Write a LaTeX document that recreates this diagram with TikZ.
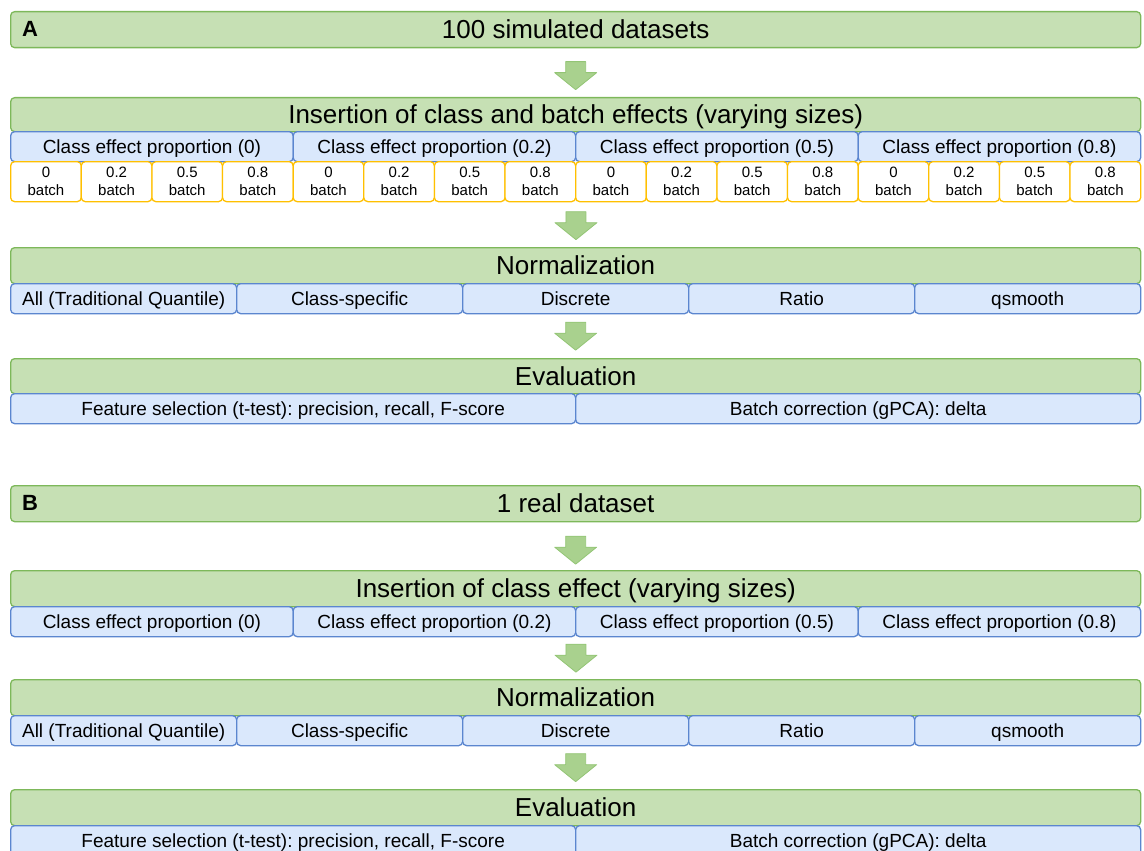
\documentclass[tikz,border=0pt]{standalone}
\usepackage{fontspec}
\setmainfont{Liberation Sans}
\frenchspacing
\usetikzlibrary{calc}
\definecolor{gfill}{HTML}{C6E0B4}
\definecolor{gline}{HTML}{7DB85A}
\definecolor{bfill}{HTML}{DAE8FC}
\definecolor{bline}{HTML}{5B86CF}
\definecolor{oline}{HTML}{FFC000}
\definecolor{afill}{HTML}{A9D18E}
\definecolor{aline}{HTML}{93C575}
\tikzset{
  base/.style={anchor=north west, rounded corners=4pt, line width=1.3pt, inner sep=0pt, text=black},
  gbox/.style={base, draw=gline, fill=gfill, minimum width=1130pt, font=\frenchspacing\fontsize{26}{28}\selectfont,
    text height=18.6pt, text depth=0pt},
  bbox/.style={base, draw=bline, fill=bfill, minimum height=30pt, font=\frenchspacing\fontsize{19}{21}\selectfont,
    text height=13.6pt, text depth=0pt},
  obox/.style={anchor=north west, rounded corners=4pt, line width=1.3pt, inner sep=0pt,
    draw=oline, fill=white, minimum width=70.625pt, minimum height=40pt, align=center,
    font=\fontsize{15}{18}\selectfont},
  panel/.style={anchor=west, font=\bfseries\fontsize{22}{22}\selectfont, inner sep=0pt},
  flow/.style={draw=aline, fill=afill, line width=0.8pt, line join=round},
  flowarrow/.pic={\draw[flow] (-10,-14) -- (10,-14) -- (10,-3) -- (21,-3) -- (0,14) -- (-21,-3) -- (-10,-3) -- cycle;}
}
\begin{document}
\begin{tikzpicture}[x=1pt,y=-1pt]
\useasboundingbox (0,0) rectangle (1144,851);

% ---------------- Panel A ----------------
\node[gbox, minimum height=36pt] (a1) at (10,11) {100 simulated datasets};
\node[panel] (la) at (22,29) {A};

\node[gbox, minimum height=34pt] (a2) at (10,97) {Insertion of class and batch effects (varying sizes)};
\foreach \p [count=\i from 0] in {0,0.2,0.5,0.8} {
  \node[bbox, minimum width=282.5pt] (ac\i) at ({10+\i*282.5},131) {Class effect proportion (\p)};
}
\foreach \k in {0,...,3} {
  \foreach \q [count=\j from 0] in {0,0.2,0.5,0.8} {
    \pgfmathtruncatemacro{\n}{\k*4+\j}
    \node[obox] (ao\n) at ({10+\n*70.625},161) {\q\\batch};
  }
}

\node[gbox, minimum height=36pt] (a3) at (10,247) {Normalization};
\foreach \t [count=\i from 0] in {All (Traditional Quantile),Class-specific,Discrete,Ratio,qsmooth} {
  \node[bbox, minimum width=226pt] (an\i) at ({10+\i*226},283) {\t};
}

\node[gbox, minimum height=35pt] (a4) at (10,358) {Evaluation};
\node[bbox, minimum width=565pt] (ae0) at (10,393) {Feature selection (t-test): precision, recall, F-score};
\node[bbox, minimum width=565pt] (ae1) at (575,393) {Batch correction (gPCA): delta};

\path ($(a1.south)!0.5!(a2.north)+(0,3)$) pic {flowarrow};
\path ($(ao7.south east)!0.5!(a3.north)+(0,1)$) pic {flowarrow};
\path ($(an2.south)!0.5!(a4.north)$) pic {flowarrow};

% ---------------- Panel B ----------------
\node[gbox, minimum height=36pt] (b1) at (10,485) {1 real dataset};
\node[panel] (lb) at (22,503) {B};

\node[gbox, minimum height=36pt] (b2) at (10,570) {Insertion of class effect (varying sizes)};
\foreach \p [count=\i from 0] in {0,0.2,0.5,0.8} {
  \node[bbox, minimum width=282.5pt] (bc\i) at ({10+\i*282.5},606) {Class effect proportion (\p)};
}

\node[gbox, minimum height=36pt] (b3) at (10,679) {Normalization};
\foreach \t [count=\i from 0] in {All (Traditional Quantile),Class-specific,Discrete,Ratio,qsmooth} {
  \node[bbox, minimum width=226pt] (bn\i) at ({10+\i*226},715) {\t};
}

\node[gbox, minimum height=36pt] (b4) at (10,789) {Evaluation};
\node[bbox, minimum width=565pt] (be0) at (10,825) {Feature selection (t-test): precision, recall, F-score};
\node[bbox, minimum width=565pt] (be1) at (575,825) {Batch correction (gPCA): delta};

\path ($(b1.south)!0.5!(b2.north)+(0,4)$) pic {flowarrow};
\path ($(bc1.south east)!0.5!(b3.north)$) pic {flowarrow};
\path ($(bn2.south)!0.5!(b4.north)$) pic {flowarrow};
\end{tikzpicture}
\end{document}
